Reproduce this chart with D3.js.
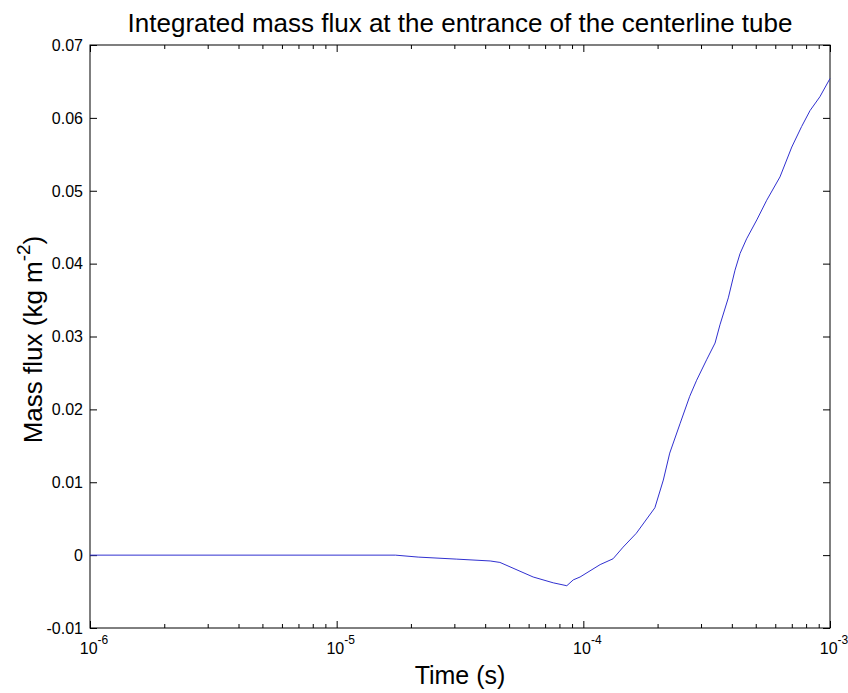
<!DOCTYPE html>
<html>
<head>
<meta charset="utf-8">
<script src="https://cdn.jsdelivr.net/npm/d3@7"></script>
<style>
  body { margin: 0; background: #fff; }
  text { font-family: "Liberation Sans", Arial, sans-serif; fill: #000; }
</style>
</head>
<body>
<svg id="chart"></svg>
<script>
// data
const times = [1e-6, 1.73e-5, 2.14e-5, 3.07e-5, 4.19e-5, 4.59e-5, 6.26e-5, 7.55e-5, 8.57e-5,
  9.1e-5, 9.7e-5, 1.17e-4, 1.32e-4, 1.45e-4, 1.64e-4, 1.95e-4, 2.11e-4, 2.24e-4, 2.47e-4,
  2.70e-4, 2.88e-4, 3.16e-4, 3.42e-4, 3.58e-4, 3.87e-4, 4.12e-4, 4.32e-4, 4.59e-4, 5.05e-4,
  5.54e-4, 6.27e-4, 7.0e-4, 7.67e-4, 8.3e-4, 9.1e-4, 1e-3];
const massFlux = [0, 0, -0.00027, -0.00055, -0.0008, -0.0010, -0.0030, -0.0038, -0.0042,
  -0.0034, -0.0030, -0.0013, -0.0005, 0.0011, 0.0030, 0.0065, 0.0103, 0.0140, 0.0181,
  0.0218, 0.0240, 0.0268, 0.0291, 0.0316, 0.0353, 0.0391, 0.0414, 0.0434, 0.0460,
  0.0487, 0.0519, 0.0560, 0.0588, 0.0610, 0.0629, 0.0654];
const yTicks = [-0.01, 0, 0.01, 0.02, 0.03, 0.04, 0.05, 0.06, 0.07];
const yTickLabels = ["-0.01", "0", "0.01", "0.02", "0.03", "0.04", "0.05", "0.06", "0.07"];
const xDecades = [-6, -5, -4, -3];

const W = 848, H = 693;
const margin = { top: 45, right: 18, bottom: 65, left: 90 };
const width = W - margin.left - margin.right;
const height = H - margin.top - margin.bottom;

const svg = d3.select("#chart").attr("width", W).attr("height", H);
const g = svg.append("g").attr("transform", `translate(${margin.left},${margin.top})`);

const x = d3.scaleLog().domain([1e-6, 1e-3]).range([0, width]);
const y = d3.scaleLinear().domain([-0.01, 0.07]).range([height, 0]);

const majorX = xDecades.map(e => Math.pow(10, e));
const minorX = [];
xDecades.slice(0, -1).forEach(e => {
  for (let k = 2; k <= 9; k++) minorX.push(k * Math.pow(10, e));
});

function styleAxis(sel) {
  sel.select(".domain").remove();
  sel.selectAll("line").attr("stroke", "#000").attr("stroke-width", 1);
}

// x ticks, inward, bottom and top
g.append("g").attr("transform", `translate(0,${height})`)
  .call(d3.axisBottom(x).tickValues(majorX).tickSize(-7).tickFormat("")).call(styleAxis);
g.append("g").attr("transform", `translate(0,${height})`)
  .call(d3.axisBottom(x).tickValues(minorX).tickSize(-4).tickFormat("")).call(styleAxis);
g.append("g")
  .call(d3.axisTop(x).tickValues(majorX).tickSize(-7).tickFormat("")).call(styleAxis);
g.append("g")
  .call(d3.axisTop(x).tickValues(minorX).tickSize(-4).tickFormat("")).call(styleAxis);

// y ticks, inward, left and right
g.append("g")
  .call(d3.axisLeft(y).tickValues(yTicks).tickSize(-7).tickFormat("")).call(styleAxis);
g.append("g").attr("transform", `translate(${width},0)`)
  .call(d3.axisRight(y).tickValues(yTicks).tickSize(-7).tickFormat("")).call(styleAxis);

// frame
g.append("rect").attr("width", width).attr("height", height)
  .attr("fill", "none").attr("stroke", "#000").attr("stroke-width", 1);

// y tick labels
g.selectAll(".ylab").data(yTicks).join("text")
  .attr("class", "ylab")
  .attr("x", -7).attr("y", d => y(d)).attr("dy", "0.36em")
  .attr("text-anchor", "end").style("font-size", "16px")
  .text((d, i) => yTickLabels[i]);

// x tick labels: 10 with superscript exponent
const xl = g.selectAll(".xlab").data(xDecades).join("text")
  .attr("class", "xlab")
  .attr("x", d => x(Math.pow(10, d)) + 4).attr("y", height + 26)
  .attr("text-anchor", "middle").style("font-size", "16px");
xl.append("tspan").text("10");
xl.append("tspan").attr("dy", -10).style("font-size", "12px").text(d => "-" + Math.abs(d));

// line
const line = d3.line().x((d, i) => x(times[i])).y(d => y(d));
g.append("path").datum(massFlux)
  .attr("fill", "none").attr("stroke", "#3030d0").attr("stroke-width", 1)
  .attr("d", line);

// title
svg.append("text").attr("x", margin.left + width / 2).attr("y", 32)
  .attr("text-anchor", "middle").style("font-size", "26px")
  .text("Integrated mass flux at the entrance of the centerline tube");

// x label
svg.append("text").attr("x", margin.left + width / 2).attr("y", 684)
  .attr("text-anchor", "middle").style("font-size", "25px")
  .text("Time (s)");

// y label
const yl = svg.append("text")
  .attr("transform", `translate(42,${margin.top + height / 2 + 3}) rotate(-90)`)
  .attr("text-anchor", "middle").style("font-size", "26px");
yl.append("tspan").text("Mass flux (kg m");
yl.append("tspan").attr("dy", -12).style("font-size", "19px").text("-2");
yl.append("tspan").attr("dy", 12).text(")");
</script>
</body>
</html>
